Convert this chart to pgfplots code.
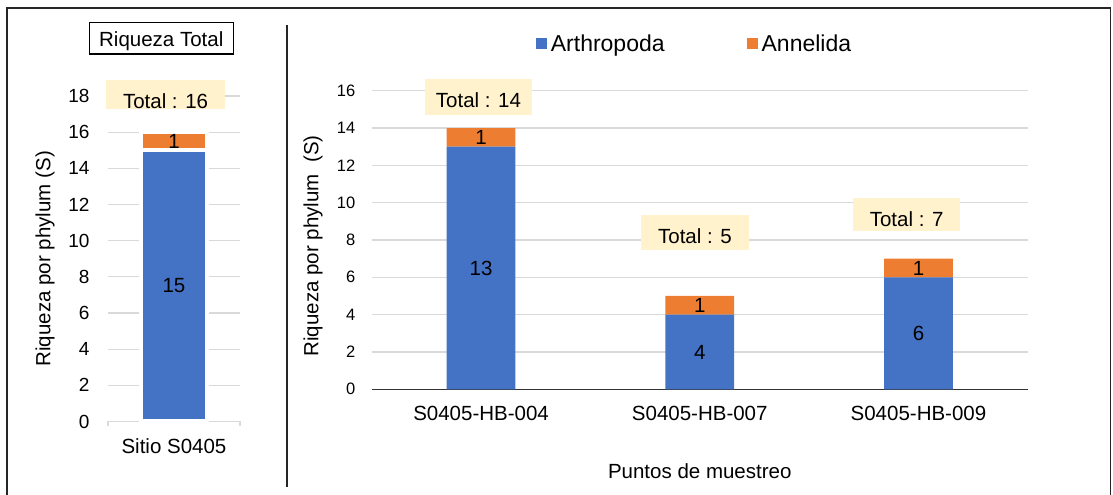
\documentclass[border=0pt]{standalone}
\usepackage{fontspec}
\setmainfont{Liberation Sans}
\usepackage{pgfplots}
\pgfplotsset{compat=1.18}
\definecolor{cblue}{HTML}{4472C4}
\definecolor{corange}{HTML}{ED7D31}
\definecolor{lblfill}{HTML}{FFF2CC}
\definecolor{gridgray}{HTML}{D9D9D9}
\newcommand{\fs}{\fontsize{20.5bp}{24bp}\selectfont}
\begin{document}
\begin{tikzpicture}[x=1bp,y=1bp]
\useasboundingbox (0,0) rectangle (1113,495);
\draw[line width=1.6bp, black!85] (7,-10) rectangle (1110.5,487);
\draw[line width=1.3bp, black!85] (287,8) -- (287,470);
\node[draw=black, line width=1.3bp, minimum width=144bp, minimum height=31.3bp, inner sep=0pt, font=\fs] at (161.3,456.65) {\raisebox{-8.35bp}[0pt][0pt]{Riqueza Total}};

\begin{axis}[
  scale only axis, width=132bp, height=325.5bp,
  at={(108bp,73.5bp)}, anchor=south west,
  clip=false,
  ybar stacked, bar width=66bp,
  xmin=-0.5, xmax=0.5, ymin=0, ymax=18,
  ytick={0,2,...,18},
  xtick={-0.5,0.5}, xticklabels={},
  extra x ticks={0}, extra x tick labels={Sitio S0405},
  extra x tick style={major tick length=0pt},
  axis lines*=left,
  y axis line style={draw=none},
  x axis line style={draw=gridgray, line width=1.3bp},
  ytick style={draw=none},
  xtick style={draw=gridgray, line width=1.3bp},
  tick align=outside, major tick length=5bp,
  ymajorgrids, grid style={draw=gridgray, line width=1.3bp},
  /pgf/number format/assume math mode=true,
  yticklabel style={font=\fontsize{19bp}{22bp}\selectfont, xshift=-10bp},
  xticklabel style={font=\fs, yshift=-14bp},
  ylabel={Riqueza por phylum (S)},
  every axis y label/.style={at={(axis description cs:-0.477,0.5)}, rotate=90, anchor=center, font=\fs},
  after end axis/.code={
    \node[font=\fs] at (axis cs:0,7.5) {15};
    \node[font=\fs] at (axis cs:0,15.5) {1};
    \node[fill=lblfill, minimum width=119bp, minimum height=28.7bp, inner sep=0pt, font=\fs] at (axis cs:-0.064,18.1) {\raisebox{-13.9bp}[0pt][0pt]{Total : 16}};
  },
]
\addplot[fill=cblue, draw=white, line width=4bp] coordinates {(0,15)};
\addplot[fill=corange, draw=white, line width=4bp] coordinates {(0,1)};
\end{axis}

\begin{axis}[
  scale only axis, width=656.1bp, height=298.6bp,
  at={(371.7bp,105.7bp)}, anchor=south west,
  clip=false,
  ybar stacked, bar width=68.7bp,
  xmin=-0.5, xmax=2.5, ymin=0, ymax=16,
  ytick={0,2,...,16},
  xtick={0,1,2}, xticklabels={S0405-HB-004,S0405-HB-007,S0405-HB-009},
  axis lines*=left,
  y axis line style={draw=none},
  x axis line style={draw=black!80, line width=1.5bp},
  tick style={draw=none}, major tick length=0pt,
  ymajorgrids, grid style={draw=gridgray, line width=1.3bp},
  /pgf/number format/assume math mode=true,
  yticklabel style={font=\fontsize{16.5bp}{19bp}\selectfont, xshift=-13bp},
  xticklabel style={font=\fs, yshift=-13bp},
  xlabel={Puntos de muestreo},
  every axis x label/.style={at={(axis description cs:0.5,-0.275)}, anchor=center, font=\fs},
  ylabel={Riqueza por phylum\ \ (S)},
  every axis y label/.style={at={(axis description cs:-0.0895,0.48)}, rotate=90, anchor=center, font=\fs},
  legend style={at={(axis description cs:0.492,1.158)}, anchor=center, draw=none, fill=none,
    legend columns=2, font=\fontsize{23bp}{27bp}\selectfont,
    /tikz/every even column/.append style={column sep=80bp}},
  after end axis/.code={
    \node[font=\fs] at (axis cs:0,6.5) {13};
    \node[font=\fs] at (axis cs:0,13.5) {1};
    \node[font=\fs] at (axis cs:1,2) {4};
    \node[font=\fs] at (axis cs:1,4.5) {1};
    \node[font=\fs] at (axis cs:2,3) {6};
    \node[font=\fs] at (axis cs:2,6.5) {1};
    \node[fill=lblfill, minimum width=107.7bp, minimum height=35.7bp, inner sep=0pt, font=\fs] at (axis cs:-0.012,15.65) {\raisebox{-9.8bp}[0pt][0pt]{Total : 14}};
    \node[fill=lblfill, minimum width=108bp, minimum height=35bp, inner sep=0pt, font=\fs] at (axis cs:0.978,8.4) {\raisebox{-10.8bp}[0pt][0pt]{Total : 5}};
    \node[fill=lblfill, minimum width=106.7bp, minimum height=33.3bp, inner sep=0pt, font=\fs] at (axis cs:1.946,9.375) {\raisebox{-11.7bp}[0pt][0pt]{Total : 7}};
  },
]
\addplot[fill=cblue, draw=none, legend image code/.code={\path[fill=cblue] (0bp,-5.5bp) rectangle (11bp,5.5bp); \path (11bp,0bp) -- (13bp,0bp);}] coordinates {(0,13) (1,4) (2,6)};
\addlegendentry{Arthropoda}
\addplot[fill=corange, draw=none, legend image code/.code={\path[fill=corange] (0bp,-5.5bp) rectangle (11bp,5.5bp); \path (11bp,0bp) -- (13bp,0bp);}] coordinates {(0,1) (1,1) (2,1)};
\addlegendentry{Annelida}
\end{axis}
\end{tikzpicture}
\end{document}
